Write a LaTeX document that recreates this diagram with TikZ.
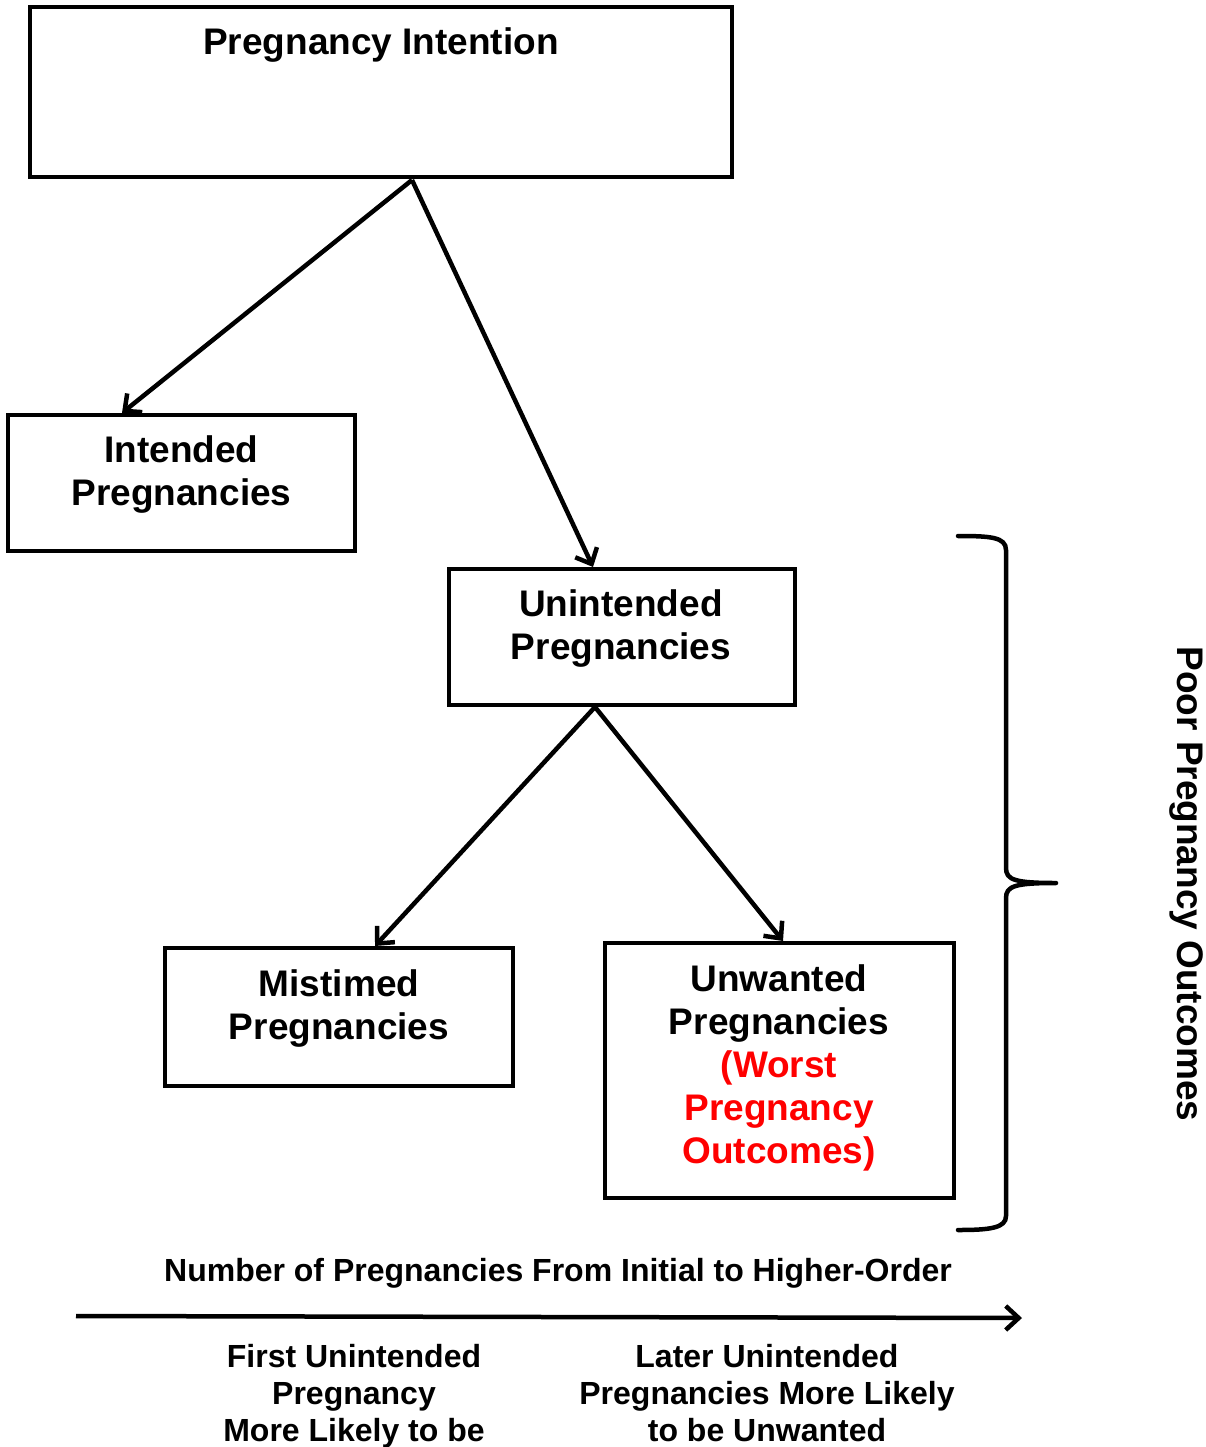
\documentclass[tikz,border=0pt]{standalone}
\usepackage{fontspec}
\setmainfont{Liberation Sans}
\usetikzlibrary{arrows.meta}
\definecolor{worstred}{RGB}{255,0,0}
\tikzset{
  box/.style={draw=black, line width=4.5pt, inner sep=0pt},
  lbl/.style={font=\bfseries\fontsize{37}{43}\selectfont, align=center, inner sep=0pt},
  small/.style={font=\bfseries\fontsize{32}{37}\selectfont, align=center, inner sep=0pt},
  conn/.style={line width=4.5pt, -{Straight Barb[length=13pt, width=24pt, line width=4.5pt]}},
}
\begin{document}
\begin{tikzpicture}[x=1pt, y=-1pt]
\useasboundingbox (0,0) rectangle (1205,1447);
% boxes
\node[box, minimum width=702pt, minimum height=170pt] (top) at (381,92) {};
\node[lbl] (toptxt) at (381,45) {Pregnancy Intention};
\node[box, minimum width=347pt, minimum height=136pt] (intended) at (181.5,483) {};
\node[lbl] (intxt) at (181.5,475) {Intended\\Pregnancies};
\node[box, minimum width=346pt, minimum height=136pt] (unint) at (622,637) {};
\node[lbl] (unintxt) at (621,629) {Unintended\\Pregnancies};
\node[box, minimum width=348pt, minimum height=138pt] (mist) at (339,1017) {};
\node[lbl] (misttxt) at (339,1009) {Mistimed\\Pregnancies};
\node[box, minimum width=349pt, minimum height=255pt] (unw) at (779.5,1070.5) {};
\node[lbl] (unwtxt) at (779,1068) {Unwanted\\Pregnancies\\\textcolor{worstred}{(Worst}\\\textcolor{worstred}{Pregnancy}\\\textcolor{worstred}{Outcomes)}};
% connector anchors
\coordinate (topS) at (412,180);
\coordinate (intN) at (122,413);
\coordinate (unintN) at (593,567);
\coordinate (unintS) at (595,707);
\coordinate (mistN) at (375,946);
\coordinate (unwN) at (783,941);
\draw[conn] (topS) -- (intN);
\draw[conn] (topS) -- (unintN);
\draw[conn] (unintS) -- (mistN);
\draw[conn] (unintS) -- (unwN);
% brace
\coordinate (brTop) at (958,536);
\coordinate (brTip) at (1056,883);
\coordinate (brBot) at (958,1230);
\draw[line width=4.5pt, line cap=round, line join=round]
  (brTop) .. controls (990,536) and (1006,537) .. (1006,550) -- (1006,868)
  .. controls (1006,880) and (1015,883) .. (brTip)
  .. controls (1015,883) and (1006,886) .. (1006,898) -- (1006,1216)
  .. controls (1006,1228) and (990,1230) .. (brBot);
\node[lbl, rotate=-90] (poor) at (1186,884) {Poor Pregnancy Outcomes};
% bottom axis
\node[small] (axislbl) at (558,1273) {Number of Pregnancies From Initial to Higher-Order};
\coordinate (axS) at (76,1316);
\coordinate (axE) at (1022,1318);
\draw[conn] (axS) -- (axE);
\node[small, anchor=north] (first) at (354,1344) {First Unintended\\Pregnancy\\More Likely to be};
\node[small, anchor=north] (later) at (767,1344) {Later Unintended\\Pregnancies More Likely\\to be Unwanted};
\end{tikzpicture}
\end{document}
